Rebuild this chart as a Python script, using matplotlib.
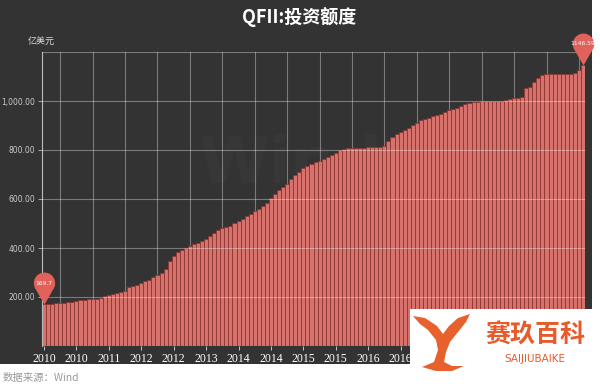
import matplotlib
matplotlib.use("Agg")
import matplotlib.pyplot as plt
from matplotlib.patches import Rectangle, Polygon
from matplotlib.path import Path
import numpy as np

plt.rcParams['font.family'] = ['Noto Sans CJK SC', 'DejaVu Sans']

# ---- data (亿美元) ----
values = [
    169.7, 171, 172, 174, 175, 176, 178, 180, 182, 186,
    189, 190, 191, 193, 197, 205, 208, 212, 215, 219,
    226, 240, 246, 249, 256, 264, 271, 282, 288, 296,
    315, 345, 368, 382, 392, 401, 408, 416, 422, 430,
    438, 448, 462, 472, 480, 486, 490, 501, 512, 520,
    530, 540, 550, 560, 570, 585, 605, 620, 635, 649,
    662, 680, 697, 712, 728, 735, 742, 750, 757, 765,
    772, 779, 788, 798, 805, 808, 809, 810, 810, 810,
    811, 812, 812, 813, 815, 838, 855, 865, 872, 880,
    890, 901, 912, 921, 927, 932, 937, 942, 947, 955,
    965, 968, 973, 980, 989, 992, 995, 997, 998, 998,
    998, 999, 1000, 1002, 1004, 1009, 1011, 1013, 1015, 1055,
    1058, 1078, 1092, 1108, 1112, 1112, 1112, 1112, 1112, 1112,
    1112, 1115, 1128, 1146.59,
]
x_labels = ['2010', '2010', '2011', '2012', '2012', '2013', '2014', '2014',
            '2015', '2015', '2016', '2016']
y_ticks = [200, 400, 600, 800, 1000]
pin_labels = ['169.7', '1146.59']

W, H = 600, 389
fig = plt.figure(figsize=(6, 3.89), dpi=100)
fig.patch.set_facecolor('white')
fig.patches.append(Rectangle((0, 25 / H), 592 / W, 364 / H, transform=fig.transFigure,
                             facecolor='#333333', edgecolor='none', zorder=-10))

# faint watermark
fig.text(290 / W, 1 - 165 / H, 'Wind', fontsize=46, fontweight='bold', color='white',
         alpha=0.025, ha='center', va='center', family='DejaVu Sans', zorder=-5)

ax = fig.add_axes([42 / W, 1 - 346 / H, 543 / W, 294 / H])
ax.set_facecolor('none')

n = len(values)
xs = np.arange(n)
ax.bar(xs, values, width=1.0, color='#d6716b', edgecolor='#8a3430', linewidth=0.55, zorder=2)

ax.set_xlim(-0.5, n - 0.5)
ax.set_ylim(0, 1200)

# grid
for yv in [200, 400, 600, 800, 1000, 1200]:
    ax.axhline(yv, color='white', alpha=0.35, linewidth=0.8, zorder=3)
for k in range(4, n, 8):
    ax.axvline(k, color='white', alpha=0.35, linewidth=0.8, zorder=1)

for s in ['top', 'right', 'bottom']:
    ax.spines[s].set_visible(False)
ax.spines['left'].set_color('#bbbbbb')
ax.spines['left'].set_linewidth(0.8)

lab_pos = [8 * k for k in range(len(x_labels))]
ax.set_xticks(lab_pos)
ax.set_xticklabels(x_labels, family='Liberation Serif', fontsize=8.5)
ax.tick_params(axis='x', colors='#dddddd', length=3, width=0.6, pad=2, labelcolor='white')

ax.set_yticks(y_ticks)
ax.set_yticklabels(['{:,.2f}'.format(v) for v in y_ticks], family='DejaVu Sans')
ax.tick_params(axis='y', colors='#bbbbbb', length=3, width=0.6, pad=2, labelsize=5.5,
               labelcolor='#cccccc')

# unit label
fig.text(41 / W, 1 - 41 / H, '亿美元', fontsize=6.5, color='#dddddd', ha='center', va='center')

# title
fig.text(299 / W, 1 - 17 / H, 'QFII:投资额度', fontsize=13, fontweight='bold',
         color='white', ha='center', va='center')

# pin markers
th = np.linspace(np.deg2rad(-30), np.deg2rad(210), 40)
verts = [(0, 0)] + [(np.cos(t), 2.0 + np.sin(t)) for t in th] + [(0, 0)]
codes = [Path.MOVETO] + [Path.LINETO] * (len(verts) - 2) + [Path.CLOSEPOLY]
pin = Path(verts, codes)
for idx, lab in zip([0, n - 1], pin_labels):
    ax.plot([idx], [values[idx]], marker=pin, markersize=46, color='#e0625a',
            markeredgewidth=0, zorder=5, clip_on=False)
    ax.annotate(lab, (idx, values[idx]), xytext=(0, 15.3), textcoords='offset points',
                ha='center', va='center', fontsize=4.3, color='white', zorder=6,
                family='DejaVu Sans', annotation_clip=False)

# source note
fig.text(3 / W, 1 - 378 / H, '数据来源：Wind', fontsize=7.5, color='#999999',
         ha='left', va='center')

# logo watermark box
fig.patches.append(Rectangle((410 / W, 0), 182 / W, 1 - 309 / H, transform=fig.transFigure,
                             facecolor='white', edgecolor='none', zorder=10))
tail_px = [(413, 316), (425, 318), (437, 326), (443, 334), (449, 326), (458, 318),
           (470, 314), (466, 322), (458, 332), (450, 342), (446, 352), (444, 362),
           (452, 366), (464, 366), (452, 371), (436, 371), (422, 367), (434, 362),
           (438, 350), (436, 340), (428, 330), (420, 324)]
fig.patches.append(Polygon([(px / W, 1 - py / H) for px, py in tail_px], closed=True,
                           transform=fig.transFigure, facecolor='#e8602c',
                           edgecolor='none', zorder=11))
fig.text(535 / W, 1 - 335 / H, '赛玖百科', fontsize=18, fontweight='bold', color='#e85a2a',
         ha='center', va='center', zorder=12)
fig.text(535 / W, 1 - 359 / H, 'SAIJIUBAIKE', fontsize=7.5, color='#e85a2a',
         ha='center', va='center', zorder=12, family='DejaVu Sans').set_fontstretch('expanded')

fig.savefig('out.png', dpi=100, facecolor=fig.get_facecolor())
